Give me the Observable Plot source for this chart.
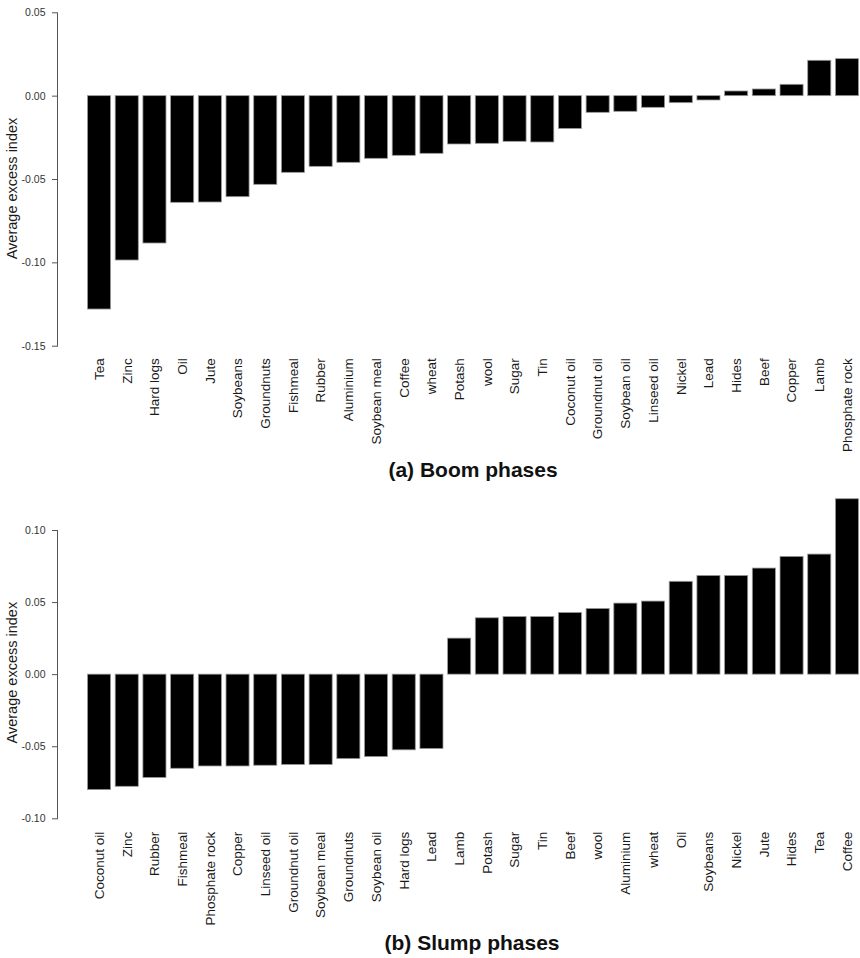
<!DOCTYPE html>
<html>
<head>
<meta charset="utf-8">
<script src="https://cdn.jsdelivr.net/npm/d3@7"></script>
<script src="https://cdn.jsdelivr.net/npm/@observablehq/plot@0.6"></script>
<style>
  html, body { margin: 0; padding: 0; background: #fff; }
  #wrap { position: relative; width: 860px; height: 958px; font-family: "Liberation Sans", Arial, sans-serif; overflow: hidden; }
  .panel { position: absolute; left: 0; }
  .title { position: absolute; font-weight: bold; font-size: 21px; color: #111; text-align: center; white-space: nowrap; transform: translateX(-50%); }
</style>
</head>
<body>
<div id="wrap">
  <div id="boom" class="panel" style="top:0px"></div>
  <div class="title" style="left:473px; top:458px;">(a) Boom phases</div>
  <div id="slump" class="panel" style="top:490px"></div>
  <div class="title" style="left:472px; top:931px;">(b) Slump phases</div>
</div>
<script>
// ---- Data ----
const boomCategories = ["Tea", "Zinc", "Hard logs", "Oil", "Jute", "Soybeans", "Groundnuts", "Fishmeal", "Rubber", "Aluminium", "Soybean meal", "Coffee", "wheat", "Potash", "wool", "Sugar", "Tin", "Coconut oil", "Groundnut oil", "Soybean oil", "Linseed oil", "Nickel", "Lead", "Hides", "Beef", "Copper", "Lamb", "Phosphate rock"];
const boomValues = [-0.128, -0.0986, -0.0884, -0.064, -0.0638, -0.0606, -0.0532, -0.046, -0.0424, -0.040, -0.0376, -0.0358, -0.0346, -0.029, -0.0286, -0.0274, -0.0278, -0.0197, -0.0100, -0.0094, -0.0070, -0.0042, -0.0026, 0.0028, 0.0040, 0.0068, 0.0212, 0.0222];
const boomTicks = [-0.15, -0.10, -0.05, 0.00, 0.05];

const slumpCategories = ["Coconut oil", "Zinc", "Rubber", "Fishmeal", "Phosphate rock", "Copper", "Linseed oil", "Groundnut oil", "Soybean meal", "Groundnuts", "Soybean oil", "Hard logs", "Lead", "Lamb", "Potash", "Sugar", "Tin", "Beef", "wool", "Aluminium", "wheat", "Oil", "Soybeans", "Nickel", "Jute", "Hides", "Tea", "Coffee"];
const slumpValues = [-0.0801, -0.0778, -0.0717, -0.0653, -0.0637, -0.0637, -0.0632, -0.0627, -0.0627, -0.0586, -0.0572, -0.0525, -0.0516, 0.0250, 0.0391, 0.0400, 0.0400, 0.0428, 0.0456, 0.0493, 0.0507, 0.0644, 0.0685, 0.0685, 0.0736, 0.0817, 0.0833, 0.1217];
const slumpTicks = [-0.10, -0.05, 0.00, 0.05, 0.10];

const yLabel = "Average excess index";
const font = "'Liberation Sans', Arial, sans-serif";

function panel(cats, vals, ticks, opts) {
  const data = cats.map((c, i) => ({cat: c, v: vals[i]}));
  return Plot.plot({
    width: 860,
    height: opts.height,
    marginTop: opts.marginTop,
    marginBottom: opts.marginBottom,
    marginLeft: 57,
    marginRight: 1,
    style: {fontFamily: font, background: "#fff", overflow: "visible"},
    x: {type: "band", domain: cats, range: [87.5, 858.5], round: false, paddingInner: 0.1667, paddingOuter: 0, axis: null},
    y: {domain: opts.domain, axis: null},
    marks: [
      Plot.barY(data, {x: "cat", y: "v", fill: "#000", stroke: "#999", strokeWidth: 0.8}),
      Plot.frame({anchor: "left", stroke: "#555", strokeWidth: 1}),
      Plot.axisY({ticks: ticks, tickSize: 5, tickPadding: 7, tickFormat: d => d.toFixed(2), fontSize: 10.5, color: "#333", stroke: "#555", label: null}),
      Plot.axisX({tickSize: 0, tickPadding: opts.labelPad, tickRotate: -90, fontSize: 13.5, color: "#1a1a1a", label: null}),
      Plot.text([yLabel], {text: d => d, frameAnchor: "left", textAnchor: "middle", rotate: -90, dx: -45, dy: opts.labelDy, fontSize: 14.5, fill: "#1a1a1a"})
    ]
  });
}

document.getElementById("boom").appendChild(panel(boomCategories, boomValues, boomTicks, {
  height: 452, marginTop: 12.3, marginBottom: 106.3, domain: [-0.15, 0.05], labelPad: 12, labelDy: 9
}));
document.getElementById("slump").appendChild(panel(slumpCategories, slumpValues, slumpTicks, {
  height: 440, marginTop: 40, marginBottom: 111.7, domain: [-0.10, 0.10], labelPad: 13, labelDy: -2
}));
</script>
</body>
</html>
